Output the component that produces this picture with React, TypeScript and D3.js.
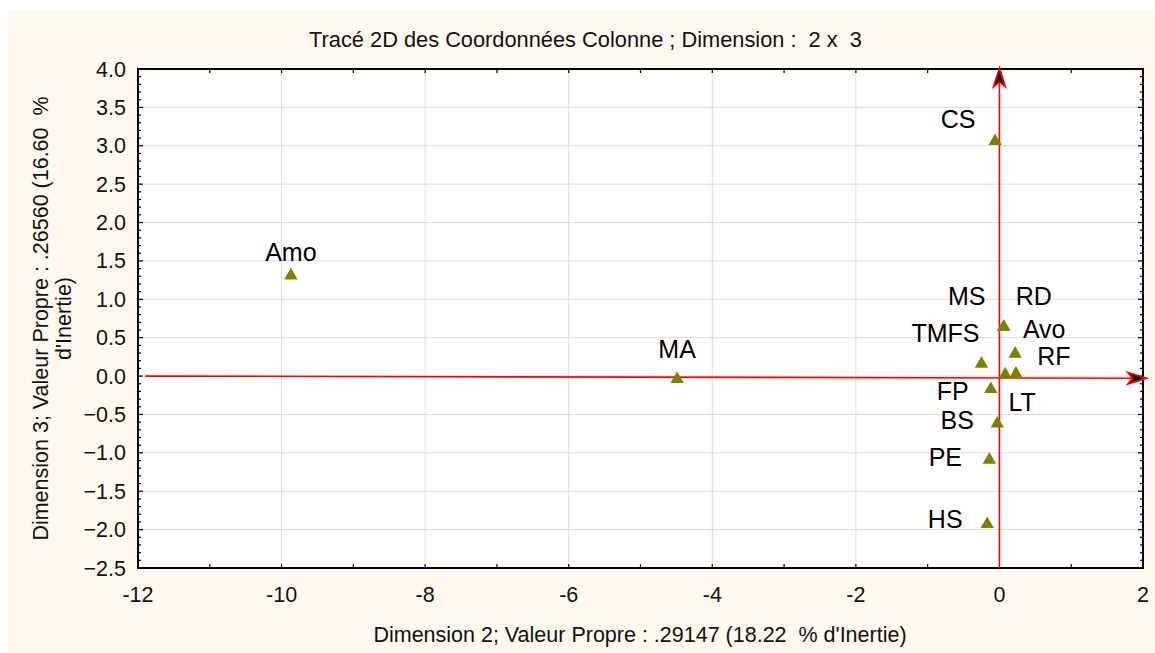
import React from 'react';
import * as d3 from 'd3';

// column coordinates
const labels = ['Amo', 'MA', 'CS', 'MS', 'RD', 'TMFS', 'Avo', 'RF', 'FP', 'LT', 'BS', 'PE', 'HS'];
const dim2 = [-9.87, -4.49, -0.06, 0.06, 0.06, -0.25, 0.22, 0.23, -0.12, 0.08, -0.03, -0.14, -0.17];
const dim3 = [1.31, -0.04, 3.06, 0.64, 0.64, 0.16, 0.29, 0.03, -0.17, 0.02, -0.62, -1.09, -1.93];

const xTicks = [-12, -10, -8, -6, -4, -2, 0, 2];
const yTicks = [4.0, 3.5, 3.0, 2.5, 2.0, 1.5, 1.0, 0.5, 0.0, -0.5, -1.0, -1.5, -2.0, -2.5];

const title = 'Tracé 2D des Coordonnées Colonne ; Dimension :  2 x  3';
const xTitle = "Dimension 2; Valeur Propre : .29147 (18.22  % d'Inertie)";
const yTitle1 = 'Dimension 3; Valeur Propre : .26560 (16.60  %';
const yTitle2 = "d'Inertie)";

// label placement relative to the marker (pixels), like statistica put them
const nudge: Record<string, [number, number]> = {
  Amo: [0, -15], MA: [0, -21], CS: [-37, -13], MS: [-37, -22], RD: [30, -22],
  TMFS: [-36, -22], Avo: [29, -16], RF: [38, -9], FP: [-38, 11], LT: [17, 36],
  BS: [-40, 5], PE: [-44, 6], HS: [-42, 4],
};

const W = 1155, H = 653;
const left = 138, right = 1143, top = 69, bottom = 568;
const font = '"Liberation Sans", Arial, sans-serif';

export default function App() {
  const x = d3.scaleLinear().domain([-12, 2]).range([left, right]);
  const y = d3.scaleLinear().domain([-2.5, 4]).range([bottom, top]);
  const tri = d3.symbol(d3.symbolTriangle, 78)();

  const yMinor = d3.range(-25, 41).map(v => v / 10);
  const xMinor = d3.range(-12, 3);

  // arrow heads (notched)
  const headV = (px: number, py: number) =>
    `M${px},${py} L${px + 6},${py + 19} L${px},${py + 14} L${px - 6},${py + 19} Z`;
  const headH = (px: number, py: number) =>
    `M${px},${py} L${px - 19},${py - 6} L${px - 14},${py} L${px - 19},${py + 6} Z`;

  const ax0 = x(0);
  const hx1 = x(-11.9), hy1 = y(0), hx2 = x(2.05), hy2 = y(-0.028);

  return (
    <svg width={W} height={H} style={{ position: 'absolute', left: 0, top: 0 }} fontFamily={font}>
      <rect x={8} y={10} width={W - 8} height={H - 10} fill="#fdf9ef" />
      <rect x={left} y={top} width={right - left} height={bottom - top} fill="#fff" />

      {yTicks.map(t => (
        <line key={'gy' + t} x1={left} x2={right} y1={y(t)} y2={y(t)} stroke="#dcdcdc" strokeWidth={1} />
      ))}
      {xTicks.map(t => (
        <line key={'gx' + t} x1={x(t)} x2={x(t)} y1={top} y2={bottom} stroke="#dcdcdc" strokeWidth={1} />
      ))}

      {/* inward ticks */}
      {yMinor.map(v => {
        const major = Math.abs(v * 2 - Math.round(v * 2)) < 1e-6;
        const len = major ? 5 : 3;
        return (
          <g key={'ty' + v}>
            <line x1={left} x2={left + len} y1={y(v)} y2={y(v)} stroke="#000" strokeWidth={1.2} />
            <line x1={right} x2={right - len} y1={y(v)} y2={y(v)} stroke="#000" strokeWidth={1.2} />
          </g>
        );
      })}
      {xMinor.map(v => (
        <g key={'tx' + v}>
          <line x1={x(v)} x2={x(v)} y1={bottom} y2={bottom - 4} stroke="#000" strokeWidth={1.2} />
          <line x1={x(v)} x2={x(v)} y1={top} y2={top + 4} stroke="#000" strokeWidth={1.2} />
        </g>
      ))}

      <rect x={left} y={top} width={right - left} height={bottom - top} fill="none" stroke="#000" strokeWidth={2} />

      {/* axes through origin */}
      <line x1={hx1} y1={hy1} x2={hx2 - 14} y2={hy2} stroke="#f00" strokeWidth={1.6} />
      <path d={headH(hx2, hy2)} fill="#111" stroke="#f00" strokeWidth={1.6} strokeLinejoin="miter" />
      <line x1={ax0} y1={bottom} x2={ax0} y2={top - 1 + 14} stroke="#f00" strokeWidth={1.6} />
      <path d={headV(ax0, top - 1)} fill="#111" stroke="#f00" strokeWidth={1.6} strokeLinejoin="miter" />

      {labels.map((l, i) => (
        <path key={'p' + l} d={tri || ''} transform={`translate(${x(dim2[i])},${y(dim3[i])})`} fill="#808000" />
      ))}
      {labels.map((l, i) => (
        <text key={'l' + l} x={x(dim2[i]) + nudge[l][0]} y={y(dim3[i]) + nudge[l][1]}
          textAnchor="middle" fontSize={25} fill="#000">{l}</text>
      ))}

      {yTicks.map(t => (
        <text key={'yl' + t} x={126} y={y(t) + 7.5} textAnchor="end" fontSize={21.5} fill="#111">
          {d3.format('.1f')(t)}
        </text>
      ))}
      {xTicks.map(t => (
        <text key={'xl' + t} x={x(t)} y={601.5} textAnchor="middle" fontSize={21.5} fill="#111">{t}</text>
      ))}

      <text x={585.5} y={46.5} textAnchor="middle" fontSize={21.8} fill="#111" xmlSpace="preserve">{title}</text>
      <text x={640} y={642} textAnchor="middle" fontSize={21.5} fill="#111" xmlSpace="preserve">{xTitle}</text>
      <text transform={`translate(48,${(top + bottom) / 2}) rotate(-90)`} textAnchor="middle" fontSize={21.5} fill="#111" xmlSpace="preserve">{yTitle1}</text>
      <text transform={`translate(71,${(top + bottom) / 2}) rotate(-90)`} textAnchor="middle" fontSize={21.5} fill="#111">{yTitle2}</text>
    </svg>
  );
}
